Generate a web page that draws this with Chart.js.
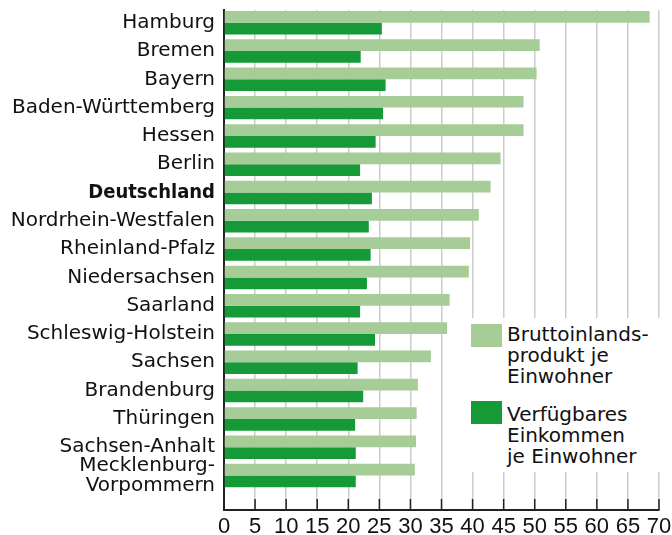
<!DOCTYPE html>
<html>
<head>
<meta charset="utf-8">
<script src="https://cdn.jsdelivr.net/npm/chart.js@4"></script>
<style>
  body { margin: 0; background: #fff; }
  #wrap { position: relative; width: 672px; height: 535px; }
  #legend {
    position: absolute; left: 468px; top: 318px; width: 204px; height: 154px;
    background: #fff; font-family: "DejaVu Sans", sans-serif; font-size: 20px;
    line-height: 21px; color: #111;
  }
  .item { position: absolute; left: 3px; display: flex; align-items: flex-start; }
  .swatch { width: 31px; height: 23px; margin-right: 5px; flex: none; }
  .txt { white-space: pre-line; }
</style>
</head>
<body>
<div id="wrap">
  <canvas id="chartCanvas" width="672" height="535"></canvas>
  <div id="legend"></div>
</div>
<script>
// Bundesländer, Werte in 1000 Euro
const states = [
  "Hamburg", "Bremen", "Bayern", "Baden-Württemberg", "Hessen", "Berlin",
  "Deutschland", "Nordrhein-Westfalen", "Rheinland-Pfalz", "Niedersachsen",
  "Saarland", "Schleswig-Holstein", "Sachsen", "Brandenburg", "Thüringen",
  "Sachsen-Anhalt", ["Mecklenburg-", "Vorpommern"]
];
const bipValues = [68.5, 50.8, 50.3, 48.2, 48.2, 44.5, 42.9, 41.0, 39.6, 39.4, 36.3, 35.9, 33.3, 31.2, 31.0, 30.9, 30.7];
const incomeValues = [25.4, 22.0, 26.0, 25.6, 24.4, 21.9, 23.8, 23.3, 23.6, 23.0, 21.9, 24.3, 21.5, 22.4, 21.1, 21.2, 21.2];
const xTicks = [0, 5, 10, 15, 20, 25, 30, 35, 40, 45, 50, 55, 60, 65, 70];
const seriesLabels = ["Bruttoinlands-\nprodukt je\nEinwohner", "Verfügbares\nEinkommen\nje Einwohner"];
const seriesColors = ["#a6cc98", "#169a38"];
const boldIndex = states.indexOf("Deutschland");

const toPoints = (vals) => vals.map((v, i) => ({ x: v, y: i }));

// short tick marks pointing up from the x axis
const innerTicks = {
  id: "innerTicks",
  afterDraw(chart) {
    const { ctx, scales: { x } } = chart;
    const bottom = chart.chartArea.bottom;
    ctx.save();
    ctx.strokeStyle = "#222";
    ctx.lineWidth = 1.5;
    xTicks.forEach((v) => {
      const px = x.getPixelForValue(v);
      ctx.beginPath();
      ctx.moveTo(px, bottom - 11);
      ctx.lineTo(px, bottom);
      ctx.stroke();
    });
    ctx.restore();
  }
};

const ctx = document.getElementById("chartCanvas").getContext("2d");
const chart = new Chart(ctx, {
  type: "bar",
  data: {
    datasets: [
      { label: seriesLabels[0], data: toPoints(bipValues), backgroundColor: seriesColors[0], borderWidth: 0 },
      { label: seriesLabels[1], data: toPoints(incomeValues), backgroundColor: seriesColors[1], borderWidth: 0 }
    ]
  },
  options: {
    indexAxis: "y",
    responsive: false,
    animation: false,
    categoryPercentage: 0.83,
    barPercentage: 1.0,
    layout: { padding: { top: 10, right: 13, left: 0, bottom: 0 } },
    plugins: { legend: { display: false }, tooltip: { enabled: false } },
    scales: {
      y: {
        type: "linear",
        reverse: true,
        offset: false,
        min: -0.45,
        max: 17.22,
        afterBuildTicks: (scale) => { scale.ticks = states.map((s, i) => ({ value: i })); },
        afterFit: (scale) => {
          scale.width = 224;
          scale.paddingTop = 0;
          scale.paddingBottom = 0;
        },
        grid: { display: false, drawTicks: false, offset: false },
        border: { color: "#222", width: 2 },
        ticks: {
          autoSkip: false,
          padding: 9,
          color: "#111",
          font: (c) => (c.tick && c.tick.value === boldIndex
            ? { family: "DejaVu Sans Condensed", size: 20, lineHeight: 1.0, weight: "bold" }
            : { family: "DejaVu Sans", size: 20, lineHeight: 1.0, weight: "normal" }),
          callback: (v) => states[v]
        }
      },
      x: {
        type: "linear",
        min: 0,
        max: 70,
        afterBuildTicks: (scale) => { scale.ticks = xTicks.map((v) => ({ value: v })); },
        afterFit: (scale) => {
          scale.height = 25;
          scale.paddingRight = 0;
        },
        grid: { color: "#cccccc", lineWidth: 1.5, drawTicks: false },
        border: { color: "#222", width: 2 },
        ticks: {
          padding: 4,
          color: "#111",
          font: { family: "'Liberation Sans Narrow', 'Liberation Sans'", size: 22 }
        }
      }
    }
  },
  plugins: [innerTicks]
});

// legend from the datasets
const legend = document.getElementById("legend");
const itemTops = [6, 83];
chart.data.datasets.forEach((ds, i) => {
  const item = document.createElement("div");
  item.className = "item";
  item.style.top = itemTops[i] + "px";
  const sw = document.createElement("div");
  sw.className = "swatch";
  sw.style.background = ds.backgroundColor;
  const tx = document.createElement("div");
  tx.className = "txt";
  tx.style.marginTop = (i === 0 ? 0 : 3) + "px";
  tx.textContent = ds.label;
  item.appendChild(sw);
  item.appendChild(tx);
  legend.appendChild(item);
});
</script>
</body>
</html>
